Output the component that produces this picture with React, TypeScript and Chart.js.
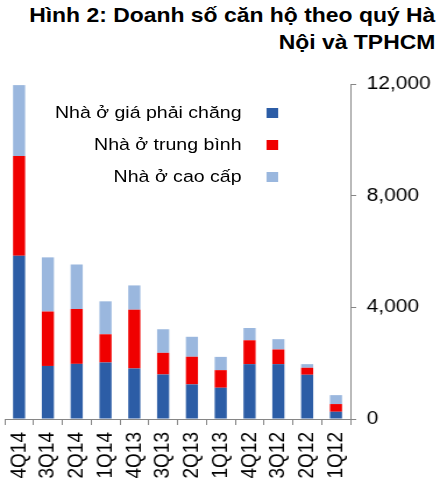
import React, { useEffect, useRef } from 'react';
import { Chart, ChartConfiguration, registerables } from 'chart.js';

Chart.register(...registerables);

const quarters = ['4Q14', '3Q14', '2Q14', '1Q14', '4Q13', '3Q13', '2Q13', '1Q13', '4Q12', '3Q12', '2Q12', '1Q12'];
const affordable = [5850, 1900, 1975, 2025, 1810, 1595, 1240, 1120, 1965, 1965, 1585, 260];
const midEnd = [3570, 1950, 1965, 1010, 2105, 775, 990, 630, 855, 525, 250, 275];
const highEnd = [2540, 1940, 1595, 1180, 870, 845, 715, 475, 440, 370, 130, 320];
const seriesNames = ['Nhà ở giá phải chăng', 'Nhà ở trung bình', 'Nhà ở cao cấp'];
const seriesColors = ['#2c5da6', '#f00000', '#9ab7de'];
const yTicks = [0, 4000, 8000, 12000];

const FONT = '"Liberation Sans", Arial, sans-serif';
const AXIS = '#868686';
// the reference picture is stretched sideways, so the whole drawing is too
const BASE_W = 378;
const STRETCH = 440 / BASE_W;

const App: React.FC = () => {
    const canvasRef = useRef<HTMLCanvasElement>(null);

    useEffect(() => {
        if (!canvasRef.current) return;
        const ctx = canvasRef.current.getContext('2d');
        if (!ctx) return;

        const config: ChartConfiguration<'bar'> = {
            type: 'bar',
            data: {
                labels: quarters,
                datasets: [affordable, midEnd, highEnd].map((values, i) => ({
                    label: seriesNames[i],
                    data: values,
                    backgroundColor: seriesColors[i],
                    borderWidth: 0,
                    categoryPercentage: 1,
                    barPercentage: 0.42,
                })),
            },
            options: {
                responsive: false,
                animation: false,
                devicePixelRatio: 1,
                layout: { padding: { top: 84, left: 4, right: 0, bottom: 0 } },
                scales: {
                    x: {
                        stacked: true,
                        grid: { display: true, drawOnChartArea: false, drawTicks: true, tickLength: 6, color: AXIS, offset: true },
                        border: { color: AXIS, width: 1 },
                        ticks: {
                            color: '#000',
                            font: { family: FONT, size: 19 },
                            minRotation: 90,
                            maxRotation: 90,
                            padding: 7,
                            autoSkip: false,
                        },
                        afterFit: (scale) => { scale.height = 76; },
                    },
                    y: {
                        stacked: true,
                        position: 'right',
                        min: 0,
                        max: 12000,
                        grid: { display: true, drawOnChartArea: false, drawTicks: true, tickLength: 5, color: AXIS },
                        border: { color: AXIS, width: 1 },
                        afterBuildTicks: (scale) => { scale.ticks = yTicks.map(v => ({ value: v })); },
                        ticks: {
                            color: '#000',
                            font: { family: FONT, size: 18 },
                            padding: 9,
                            callback: (value) => Number(value).toLocaleString('en-US'),
                        },
                        afterFit: (scale) => { scale.width = 77; },
                    },
                },
                plugins: {
                    legend: { display: false },
                    tooltip: { enabled: false },
                },
            },
        };

        const chart = new Chart(ctx, config);
        return () => chart.destroy();
    }, []);

    return (
        <div style={{ position: 'fixed', left: 0, top: 0, width: BASE_W, height: 495, background: '#fff', fontFamily: FONT, transform: `scaleX(${STRETCH})`, transformOrigin: '0 0' }}>
            <div style={{ position: 'absolute', right: 4, top: 2, textAlign: 'right', fontWeight: 'bold', fontSize: 19.7, lineHeight: '27px', color: '#000', whiteSpace: 'nowrap' }}>
                Hình 2: Doanh số căn hộ theo quý Hà<br />Nội và TPHCM
            </div>
            <canvas ref={canvasRef} width={BASE_W} height={495} style={{ position: 'absolute', left: 0, top: 0 }} />
            <div style={{ position: 'absolute', left: 0, top: 97.5, width: 239 }}>
                {seriesNames.map((name, i) => (
                    <div key={name} style={{ display: 'flex', alignItems: 'center', justifyContent: 'flex-end', height: 31.7, fontSize: 16.8, color: '#000', whiteSpace: 'nowrap' }}>
                        <span>{name}</span>
                        <span style={{ display: 'inline-block', width: 10, height: 10, background: seriesColors[i], marginLeft: 21.5 }} />
                    </div>
                ))}
            </div>
        </div>
    );
};

export default App;
